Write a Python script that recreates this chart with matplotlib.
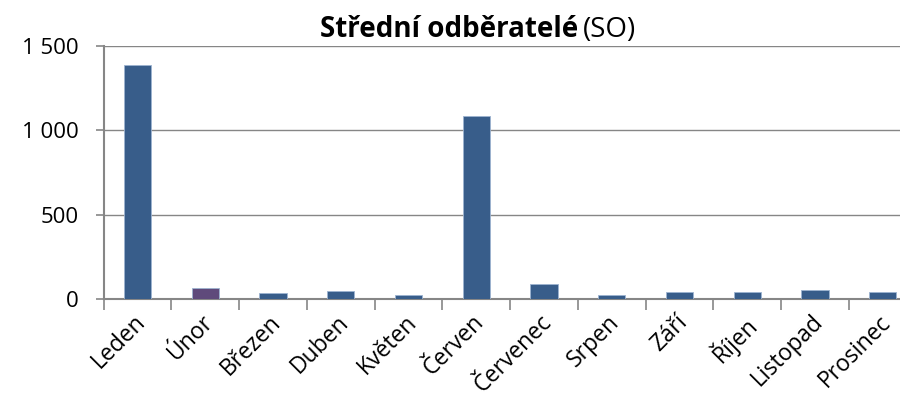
import numpy as np
import matplotlib.pyplot as plt
from matplotlib.ticker import FuncFormatter

months = ['Leden', 'Únor', 'Březen', 'Duben', 'Květen', 'Červen',
          'Červenec', 'Srpen', 'Září', 'Říjen', 'Listopad', 'Prosinec']
values = [1387, 65, 36, 48, 24, 1087, 89, 22, 40, 40, 54, 40]
y_ticks = [0, 500, 1000, 1500]

blue = '#385D8A'
purple = '#5F4A7B'
colors = [purple if m == 'Únor' else blue for m in months]

plt.rcParams['font.family'] = ['Open Sans', 'DejaVu Sans']

fig = plt.figure(figsize=(9, 4), dpi=100)
# plot area runs a little past the right edge of the figure
ax = fig.add_axes([0.1152, 0.2525, 0.9033, 0.6325])

x = np.arange(len(months))
ax.bar(x, values, width=0.404, color=colors, edgecolor='#9DB3D0', linewidth=0.6, zorder=3)

ax.set_xlim(-0.5, len(months) - 0.5)
ax.set_ylim(0, 1500)
ax.set_yticks(y_ticks)
ax.yaxis.set_major_formatter(FuncFormatter(lambda v, p: f'{int(v):,}'.replace(',', ' ')))
ax.grid(axis='y', color='#868686', linewidth=1.0, zorder=0)

# category ticks sit between the bars
ax.set_xticks(x - 0.06)
ax.set_xticklabels(months, rotation=45, ha='right', rotation_mode='anchor', fontsize=16.5)
ax.set_xticks(np.arange(len(months) + 1) - 0.5, minor=True)
ax.tick_params(axis='x', which='major', length=0, pad=8)
ax.tick_params(axis='x', which='minor', length=8, width=1.2, color='#868686')
ax.tick_params(axis='y', length=6, width=1.2, color='#868686', labelsize=16, pad=12)

for side in ['top', 'right']:
    ax.spines[side].set_visible(False)
for side in ['left', 'bottom']:
    ax.spines[side].set_color('#868686')
    ax.spines[side].set_linewidth(1.5)

fig.text(0.642, 0.9075, 'Střední odběratelé', ha='right', va='baseline',
         fontsize=20, fontweight='bold')
fig.text(0.648, 0.9075, '(SO)', ha='left', va='baseline', fontsize=20)

fig.savefig('out.png', dpi=100)
